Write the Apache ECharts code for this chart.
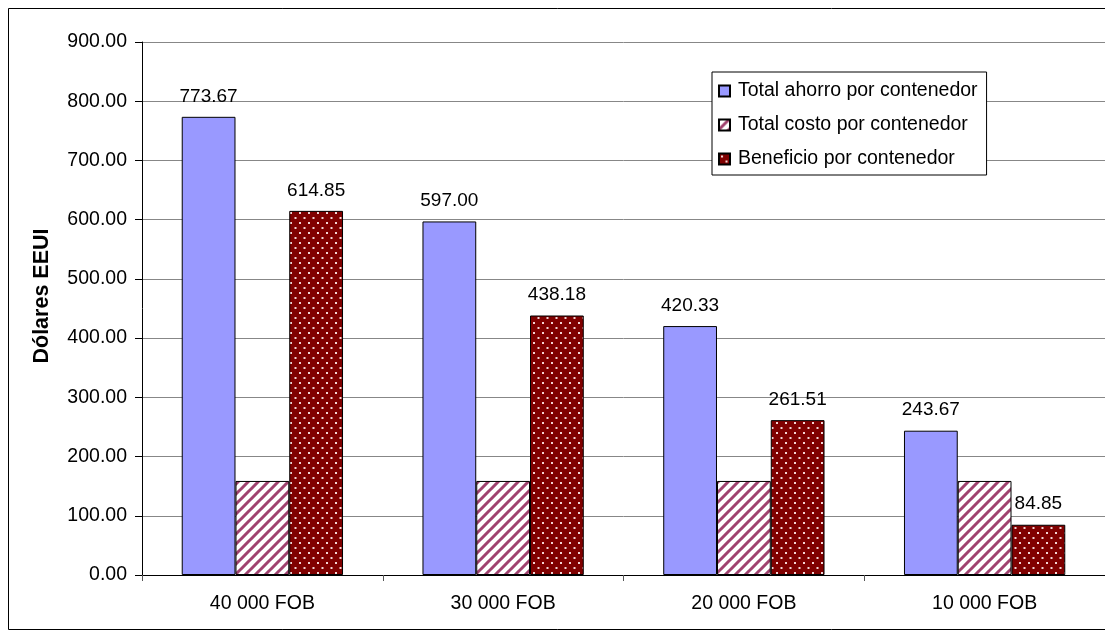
<!DOCTYPE html>
<html>
<head>
<meta charset="utf-8">
<title>Beneficio por contenedor</title>
<script src="https://cdn.jsdelivr.net/npm/echarts@6/dist/echarts.min.js"></script>
<style>
  html, body { margin: 0; padding: 0; background: #ffffff; }
  #chart { width: 1105px; height: 639px; }
</style>
</head>
<body>
<div id="chart"></div>
<script>
// Categories (volumen FOB) and series values, in US dollars per container
const categories = ['40 000 FOB', '30 000 FOB', '20 000 FOB', '10 000 FOB'];
const ahorro = [773.67, 597.00, 420.33, 243.67];
const costo = [158.82, 158.82, 158.82, 158.82];
const beneficio = [614.85, 438.18, 261.51, 84.85];
const seriesNames = ['Total ahorro por contenedor', 'Total costo por contenedor', 'Beneficio por contenedor'];
const yTicks = { min: 0, max: 900, step: 100 };
const yTitle = 'Dólares EEUI';

const FONT = '"Liberation Sans", Arial, sans-serif';

// Diagonal stripe fill (maroon on white)
function stripePattern() {
  const s = 10;
  const c = document.createElement('canvas');
  c.width = s; c.height = s;
  const g = c.getContext('2d');
  g.fillStyle = '#ffffff';
  g.fillRect(0, 0, s, s);
  g.strokeStyle = '#a0426f';
  g.lineWidth = 3;
  g.beginPath();
  for (let k = -1; k <= 1; k++) {
    g.moveTo(k * s - 1, s + 1);
    g.lineTo(k * s + s + 1, -1);
  }
  g.stroke();
  return c;
}

// Dark red fill with a staggered grid of small white dots
function dotPattern() {
  const w = 9, h = 10;
  const c = document.createElement('canvas');
  c.width = w; c.height = h;
  const g = c.getContext('2d');
  g.fillStyle = '#800000';
  g.fillRect(0, 0, w, h);
  g.fillStyle = 'rgba(255,235,235,0.9)';
  g.fillRect(2, 2, 2, 2);
  g.fillRect(6.5, 7, 2, 2);
  return c;
}

const chart = echarts.init(document.getElementById('chart'), null, { renderer: 'canvas' });

const valueLabel = {
  show: true,
  position: 'top',
  distance: 11,
  color: '#000',
  fontFamily: FONT,
  fontSize: 19,
  formatter: p => p.value.toFixed(2)
};

const barBorder = { borderColor: '#000', borderWidth: 1 };

chart.setOption({
  backgroundColor: '#ffffff',
  animation: false,
  textStyle: { fontFamily: FONT },
  graphic: [
    {
      type: 'rect',
      shape: { x: 8.5, y: 8.5, width: 1110, height: 621 },
      style: { fill: 'none', stroke: '#000', lineWidth: 1 },
      z: 100
    },
    {
      type: 'text',
      x: 42, y: 296,
      rotation: Math.PI / 2,
      style: {
        text: yTitle,
        fontFamily: FONT,
        fontSize: 21.5,
        fontWeight: 'bold',
        fill: '#000',
        align: 'center',
        verticalAlign: 'middle'
      }
    }
  ],
  grid: { left: 142, top: 42, width: 964, height: 533, containLabel: false },
  legend: {
    orient: 'vertical',
    left: 712,
    top: 72,
    padding: [9, 9, 6, 6],
    itemGap: 14,
    itemWidth: 11,
    itemHeight: 11,
    icon: 'rect',
    backgroundColor: '#ffffff',
    borderColor: '#000',
    borderWidth: 1,
    borderRadius: 0,
    textStyle: { fontFamily: FONT, fontSize: 19.5, color: '#000', padding: [0, 0, 0, 3] },
    data: seriesNames
  },
  xAxis: {
    type: 'category',
    data: categories,
    boundaryGap: true,
    axisLine: { lineStyle: { color: '#000', width: 1 } },
    axisTick: { show: true, length: 6, lineStyle: { color: '#555' } },
    axisLabel: { color: '#000', fontFamily: FONT, fontSize: 19.5, margin: 19 },
    splitLine: { show: false }
  },
  yAxis: {
    type: 'value',
    min: yTicks.min,
    max: yTicks.max,
    interval: yTicks.step,
    axisLine: { show: true, lineStyle: { color: '#000', width: 1 } },
    axisTick: { show: true, length: 7, inside: false, lineStyle: { color: '#000' } },
    axisLabel: {
      color: '#000', fontFamily: FONT, fontSize: 19.5, margin: 15,
      formatter: v => v.toFixed(2)
    },
    splitLine: { show: true, lineStyle: { color: '#878787', width: 1 } }
  },
  series: [
    {
      name: seriesNames[0],
      type: 'bar',
      data: ahorro,
      barGap: '0%',
      barCategoryGap: '33%',
      itemStyle: Object.assign({ color: '#9999ff' }, barBorder),
      label: valueLabel
    },
    {
      name: seriesNames[1],
      type: 'bar',
      data: costo,
      barGap: '0%',
      barCategoryGap: '33%',
      itemStyle: Object.assign({ color: { image: stripePattern(), repeat: 'repeat' } }, barBorder),
      label: { show: false }
    },
    {
      name: seriesNames[2],
      type: 'bar',
      data: beneficio,
      barGap: '0%',
      barCategoryGap: '33%',
      itemStyle: Object.assign({ color: { image: dotPattern(), repeat: 'repeat' } }, barBorder),
      label: valueLabel
    }
  ]
});
</script>
</body>
</html>
